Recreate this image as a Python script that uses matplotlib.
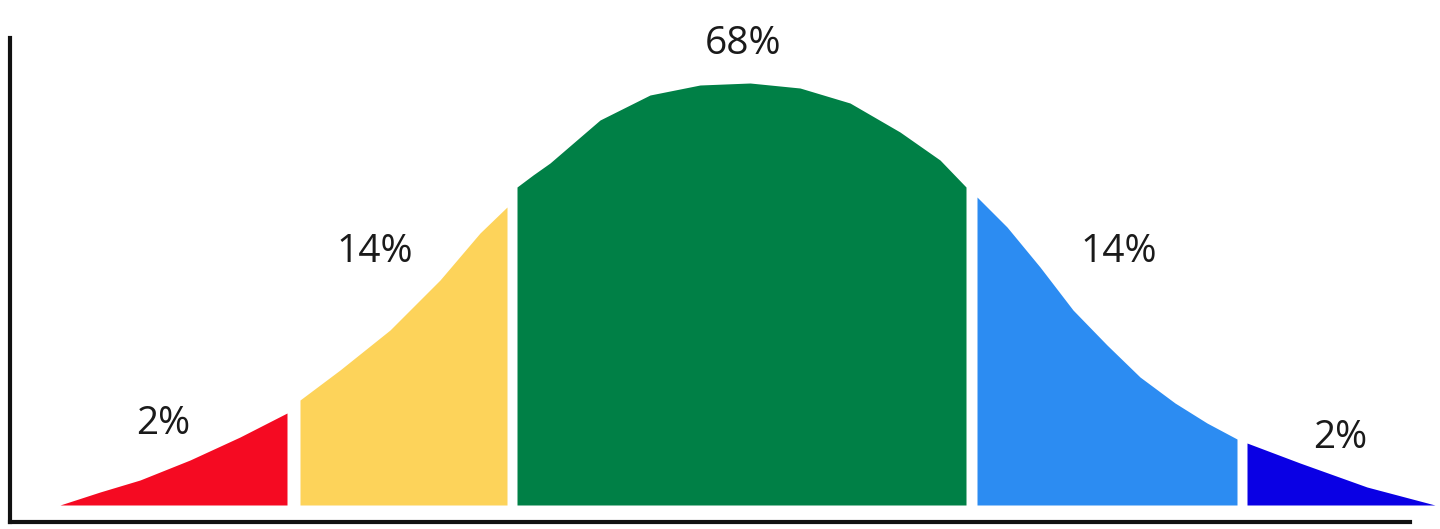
import matplotlib
matplotlib.use("Agg")
import matplotlib.pyplot as plt

# Curve segments: x position and height above the fill baseline
red_x = [60, 100, 140, 190, 240, 287]
red_h = [0, 13, 25, 45, 68, 92]
yellow_x = [300, 340, 390, 440, 480, 507]
yellow_h = [105, 135, 175, 225, 272, 298]
green_x = [517, 533, 550, 600, 650, 700, 750, 800, 850, 900, 940, 966]
green_h = [318, 330, 342, 385, 410, 420, 422, 417, 402, 373, 345, 318]
blue_x = [977, 1007, 1040, 1073, 1107, 1140, 1175, 1207, 1237]
blue_h = [308, 278, 238, 195, 160, 128, 102, 82, 66]
dblue_x = [1247, 1300, 1367, 1435]
dblue_h = [62, 42, 18, 0]

labels = ["2%", "14%", "68%", "14%", "2%"]
label_x = [163, 375, 743, 1119, 1340]
label_y = [81, 253, 461, 253, 67]

colors = ["#F50A22", "#FDD35A", "#008046", "#2C8CF2", "#0A00E4"]

W, H = 1440, 529
fig = plt.figure(figsize=(W / 100, H / 100), dpi=100)
ax = fig.add_axes([10 / W, 7 / H, (W - 10) / W, 484 / H])
ax.set_xlim(10, 1440)
ax.set_ylim(-17, 467)

segments = [(red_x, red_h), (yellow_x, yellow_h), (green_x, green_h),
            (blue_x, blue_h), (dblue_x, dblue_h)]
for (xs, hs), c in zip(segments, colors):
    ax.fill_between(xs, 0, hs, color=c, linewidth=0)

for t, x, y in zip(labels, label_x, label_y):
    ax.text(x, y, t, ha="center", va="center", fontsize=28,
            family="Open Sans", color="#1a1a1a", clip_on=False)

for s in ["top", "right"]:
    ax.spines[s].set_visible(False)
for s in ["left", "bottom"]:
    ax.spines[s].set_linewidth(3)
    ax.spines[s].set_color("#111111")
ax.spines["bottom"].set_bounds(10, 1410)
ax.set_xticks([])
ax.set_yticks([])
ax.patch.set_alpha(0)

fig.savefig("out.png", dpi=100, facecolor="white")
